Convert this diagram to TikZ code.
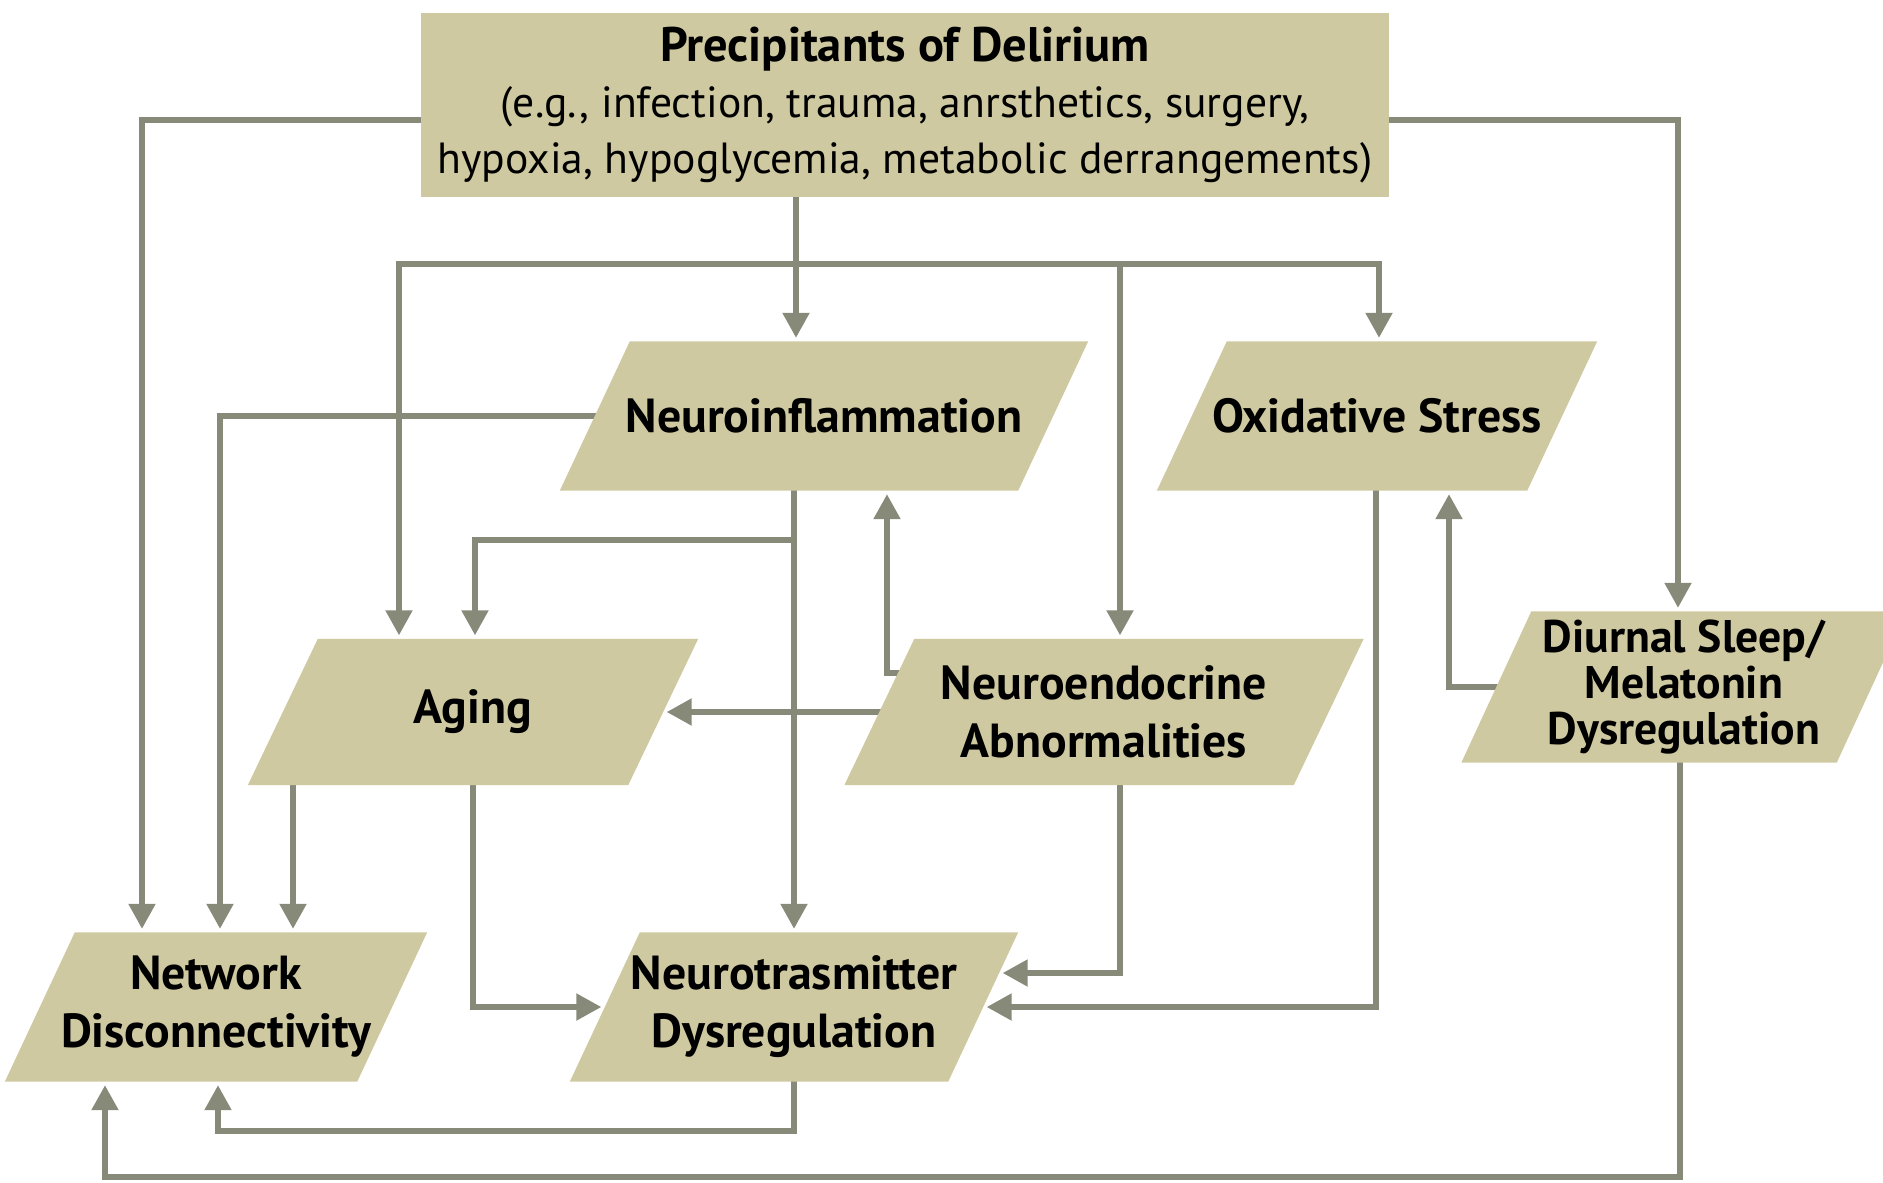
\documentclass[tikz,border=0pt]{standalone}
\usepackage{fontspec}
\setmainfont{PT Sans}
\usetikzlibrary{arrows.meta}

\definecolor{boxtan}{RGB}{206,201,160}
\definecolor{linegray}{RGB}{135,138,120}

\pgfdeclarelayer{lines}
\pgfdeclarelayer{back}
\pgfsetlayers{lines,back,main}

\tikzset{
  blk/.style={inner sep=0pt, align=center, minimum height=14.8mm,
    font=\bfseries\fontsize{13.6}{16.5}\selectfont,
    append after command={\pgfextra{\begin{pgfonlayer}{back}
      \fill[boxtan] ([xshift=3.5mm]\tikzlastnode.north west) -- ([xshift=3.5mm]\tikzlastnode.north east)
        -- ([xshift=-3.5mm]\tikzlastnode.south east) -- ([xshift=-3.5mm]\tikzlastnode.south west) -- cycle;
      \end{pgfonlayer}}}},
  link/.style={draw=linegray, line width=1.5pt,
    -{Triangle[width=2.6mm,length=2.5mm]}, shorten >=1pt}
}

\begin{document}
\begin{tikzpicture}[x=0.1mm,y=-0.1mm]
        \useasboundingbox (0,0) rectangle (1883,1182);
        \clip (0,0) rectangle (1883,1182);
        %nodes
        \node[fill=boxtan, minimum width=96.8mm, minimum height=18.4mm, inner sep=0pt,
              align=center, font=\fontsize{12.4}{16}\selectfont] (prec) at (905,105)
              {{\fontsize{13.8}{16}\selectfont\bfseries Precipitants of Delirium}\\(e.g., infection, trauma, anrsthetics, surgery,\\hypoxia, hypoglycemia, metabolic derrangements)};
        \node[blk, minimum width=45.7mm] (ninfl) at (824,416) {Neuroinflammation};
        \node[blk, minimum width=36.9mm] (oxid) at (1377,416) {Oxidative Stress};
        \node[blk, minimum width=37.9mm, minimum height=14.5mm] (aging) at (473,712) {Aging};
        \node[blk, minimum width=44.8mm, minimum height=14.5mm] (nendo) at (1104,712) {Neuroendocrine\\Abnormalities};
        \node[blk, minimum width=37.4mm, minimum height=15mm,
              font=\bfseries\fontsize{13}{13}\selectfont] (diurnal) at (1684,687) {Diurnal Sleep/\\Melatonin\\Dysregulation};
        \node[blk, minimum width=35.1mm] (netw) at (216,1007) {Network\\Disconnectivity};
        \node[blk, minimum width=37.7mm] (ntrans) at (794,1007) {Neurotrasmitter\\Dysregulation};
        \coordinate (hub) at (796,264);
        %edges
        \begin{pgfonlayer}{lines}
          \draw[link] (prec.center |- 0,120) -| (netw.north -| 142,0);
          \draw[link] (prec.center |- 0,120) -| (diurnal.north -| 1678,0);
          \draw[link] (prec.center -| 796,0) -- (ninfl.north -| 796,0);
          \draw[link] (hub) -| (aging.north -| 399,0);
          \draw[link] (hub) -| (oxid.north -| 1379,0);
          \draw[link] (hub -| 1120,0) -- (nendo.north -| 1120,0);
          \draw[link] (ninfl.center) -| (netw.north -| 220,0);
          \draw[link] (ninfl.center -| 794,0) -- (ntrans.north -| 794,0);
          \draw[link] (ninfl.center -| 794,0) -- ++(0,124) -| (aging.north -| 475,0);
          \draw[link] (nendo.center |- 0,673) -| (ninfl.south -| 887,0);
          \draw[link] (nendo.center) -- (aging.east);
          \draw[link] (aging.center -| 293,0) -- (netw.north -| 293,0);
          \draw[link] (aging.center) |- (ntrans.west);
          \draw[link] (nendo.center -| 1120,0) |- ([shift={(16,-34)}]ntrans.east);
          \draw[link] (oxid.center -| 1376,0) |- (ntrans.east);
          \draw[link] (ntrans.center) -- ++(0,124) -| (netw.south -| 218,0);
          \draw[link] (diurnal.center -| 1680,0) -- ++(0,490) -| (netw.south -| 105,0);
          \draw[link] (diurnal.center) -| (oxid.south -| 1449,0);
        \end{pgfonlayer}
\end{tikzpicture}
\end{document}
